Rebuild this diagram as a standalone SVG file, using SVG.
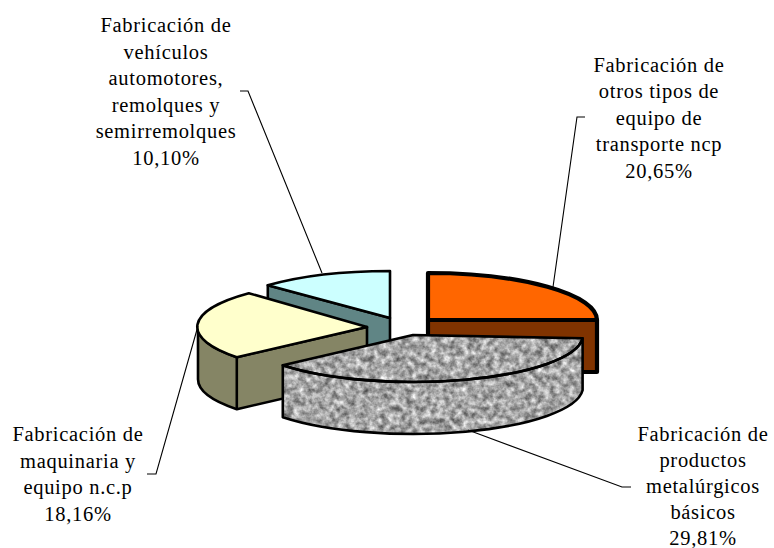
<svg xmlns="http://www.w3.org/2000/svg" width="774" height="548" viewBox="0 0 774 548">
<style>
.lbl{font-family:"Liberation Serif","Times New Roman",serif;font-size:20.5px;fill:#000;text-anchor:middle;letter-spacing:0.7px}
.edge{stroke:#000;stroke-width:2.6;stroke-linejoin:round}
.thick{stroke:#000;stroke-width:4.2;stroke-linejoin:round}
.lead{fill:none;stroke:#000;stroke-width:1.1}
.out{fill:none}
</style>
<defs>
<filter id="granite" x="0%" y="0%" width="100%" height="100%" color-interpolation-filters="sRGB">
<feTurbulence type="fractalNoise" baseFrequency="0.16" numOctaves="3" seed="7" result="noise"/>
<feColorMatrix in="noise" type="matrix" values="0.9 0 0 0 0.2 0.9 0 0 0 0.2 0.9 0 0 0 0.2 0 0 0 0 1" result="g"/>
<feComposite in="g" in2="SourceAlpha" operator="in"/>
</filter>
</defs>
<rect width="774" height="548" fill="#fff"/>

<g id="slice-vehiculos">
<path class="edge" fill="#608585" d="M267.8,285.3 L390,318 L390,370 L267.8,337.3 Z"/>
<path class="edge" fill="#CCFFFF" d="M390,318 L390,271 A170,47 0 0,0 267.8,285.3 Z"/>
</g>

<g id="slice-otros">
<path class="thick" fill="#803300" d="M428,320 L597,320 L597,372 L428,372 Z"/>
<path class="thick" fill="#FF6600" d="M428,320 L428,273 A169,47 0 0,1 597,320 Z"/>
</g>

<g id="slice-maquinaria">
<path class="edge" fill="#858565" d="M198,327 A169,47 0 0,0 236.8,357.2 L367,327 L367,379 L236.8,409.2 A169,47 0 0,1 198,379 Z"/>
<path class="edge" fill="#FFFFCC" d="M367,327 L248.8,293.2 A169,47 0 0,0 236.8,357.2 Z"/>
<path class="edge out" d="M236.8,357.2 L236.8,409.2"/>
</g>

<g id="slice-metalurgicos">
<g filter="url(#granite)">
<path fill="#000" d="M282.8,365.2 A170,47 0 0,0 582.6,338.3 L582.6,390.3 A170,47 0 0,1 282.8,417.2 Z"/>
<path fill="#000" d="M413,335 L582.6,338.3 A170,47 0 0,1 282.8,365.2 Z"/>
</g>
<path class="edge out" d="M282.8,365.2 A170,47 0 0,0 582.6,338.3 L582.6,390.3 A170,47 0 0,1 282.8,417.2 Z"/>
<path class="edge out" d="M413,335 L582.6,338.3 A170,47 0 0,1 282.8,365.2 Z"/>
</g>

<g id="connectors">
<path class="lead" d="M240,91 L248,91 L322,273"/>
<path class="lead" d="M585,117 L577,117 L553,287"/>
<path class="lead" d="M147,474 L156,474 L198,326"/>
<path class="lead" d="M468,430 L622,487 L631,487"/>
</g>

<g id="label-vehiculos">
<text class="lbl" x="166" y="32">Fabricación de</text>
<text class="lbl" x="166" y="58.5">vehículos</text>
<text class="lbl" x="166" y="85">automotores,</text>
<text class="lbl" x="166" y="111.5">remolques y</text>
<text class="lbl" x="166" y="138">semirremolques</text>
<text class="lbl" x="166" y="164.5">10,10%</text>
</g>
<g id="label-otros">
<text class="lbl" x="659" y="71.5">Fabricación de</text>
<text class="lbl" x="659" y="98">otros tipos de</text>
<text class="lbl" x="659" y="124.5">equipo de</text>
<text class="lbl" x="659" y="151">transporte ncp</text>
<text class="lbl" x="659" y="177.5">20,65%</text>
</g>
<g id="label-maquinaria">
<text class="lbl" x="78" y="441">Fabricación de</text>
<text class="lbl" x="78" y="467.5">maquinaria y</text>
<text class="lbl" x="78" y="494">equipo n.c.p</text>
<text class="lbl" x="78" y="520.5">18,16%</text>
</g>
<g id="label-metalurgicos">
<text class="lbl" x="703" y="441">Fabricación de</text>
<text class="lbl" x="703" y="467">productos</text>
<text class="lbl" x="703" y="493">metalúrgicos</text>
<text class="lbl" x="703" y="519">básicos</text>
<text class="lbl" x="703" y="545">29,81%</text>
</g>
</svg>
